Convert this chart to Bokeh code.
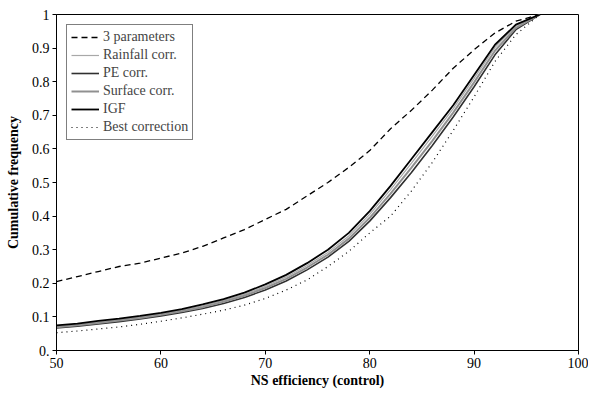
from bokeh.plotting import figure
from bokeh.models import FixedTicker, Legend, LegendItem
from bokeh.embed import file_html
from bokeh.resources import INLINE

# Data
ns = [50, 52, 54, 56, 58, 60, 62, 64, 66, 68, 70, 72, 74, 76, 78, 80, 82, 84, 86, 88, 90, 92, 94, 96.3]
three_params = [0.205, 0.22, 0.235, 0.25, 0.26, 0.275, 0.29, 0.31, 0.335, 0.36, 0.39, 0.42, 0.46, 0.50,
                0.545, 0.595, 0.66, 0.715, 0.775, 0.84, 0.895, 0.945, 0.98, 1.0]
rainfall = [0.072, 0.077, 0.085, 0.092, 0.1, 0.109, 0.12, 0.133, 0.149, 0.167, 0.191, 0.219, 0.253, 0.292,
            0.341, 0.405, 0.479, 0.558, 0.638, 0.72, 0.81, 0.902, 0.966, 1.0]
pe = [0.067, 0.072, 0.079, 0.086, 0.094, 0.103, 0.113, 0.125, 0.14, 0.158, 0.18, 0.207, 0.24, 0.278,
      0.325, 0.385, 0.455, 0.53, 0.61, 0.695, 0.785, 0.88, 0.955, 1.0]
surface = [0.069, 0.075, 0.082, 0.089, 0.097, 0.106, 0.117, 0.129, 0.145, 0.163, 0.186, 0.213, 0.247, 0.285,
           0.333, 0.395, 0.467, 0.544, 0.624, 0.708, 0.798, 0.892, 0.96, 1.0]
igf = [0.075, 0.08, 0.088, 0.095, 0.103, 0.112, 0.123, 0.137, 0.153, 0.172, 0.197, 0.225, 0.26, 0.30,
       0.35, 0.415, 0.49, 0.57, 0.65, 0.73, 0.82, 0.91, 0.97, 1.0]
best = [0.053, 0.058, 0.064, 0.07, 0.078, 0.087, 0.097, 0.108, 0.12, 0.135, 0.155, 0.18, 0.21, 0.25,
        0.295, 0.35, 0.40, 0.475, 0.56, 0.655, 0.755, 0.86, 0.94, 1.0]

x_ticks = [50, 60, 70, 80, 90, 100]
y_ticks = [0, 0.1, 0.2, 0.3, 0.4, 0.5, 0.6, 0.7, 0.8, 0.9, 1.0]
y_tick_labels = ["0.", "0.1", "0.2", "0.3", "0.4", "0.5", "0.6", "0.7", "0.8", "0.9", "1"]

FONT = "'Liberation Serif', 'Times New Roman', Times, serif"

p = figure(width=588, height=392, x_range=(50, 100), y_range=(0, 1),
           output_backend="svg", toolbar_location=None,
           min_border_left=56, min_border_right=10, min_border_top=14, min_border_bottom=42)
p.grid.visible = False
p.outline_line_color = "black"
p.outline_line_width = 1
p.background_fill_color = "white"
p.border_fill_color = "white"

r1 = p.line(ns, three_params, line_color="black", line_width=1.3, line_dash="6 4")
r2 = p.line(ns, rainfall, line_color="#a8a8a8", line_width=1.2)
r3 = p.line(ns, pe, line_color="#303030", line_width=1.6)
r4 = p.line(ns, surface, line_color="#909090", line_width=2.0)
r5 = p.line(ns, igf, line_color="black", line_width=1.8)
r6 = p.line(ns, best, line_color="black", line_width=1.2, line_dash="1 4")

for ax in (p.xaxis[0], p.yaxis[0]):
    ax.major_label_text_font = FONT
    ax.major_label_text_font_size = "14px"
    ax.major_label_text_color = "black"
    ax.axis_label_text_font = FONT
    ax.axis_label_text_font_size = "14px"
    ax.axis_label_text_font_style = "bold"
    ax.axis_label_text_color = "black"
    ax.minor_tick_line_color = None
    ax.major_tick_in = 0
    ax.major_tick_out = 4
    ax.axis_line_color = "black"
    ax.major_tick_line_color = "black"

p.xaxis.ticker = FixedTicker(ticks=x_ticks)
p.yaxis.ticker = FixedTicker(ticks=y_ticks)
p.yaxis.major_label_overrides = {t: l for t, l in zip(y_ticks, y_tick_labels)}
p.xaxis.axis_label = "NS efficiency (control)"
p.yaxis.axis_label = "Cumulative frequency"
p.xaxis.major_label_standoff = 3
p.yaxis.major_label_standoff = 3
p.xaxis.axis_label_standoff = 2
p.yaxis.axis_label_standoff = 8

legend = Legend(items=[
    LegendItem(label="3 parameters", renderers=[r1]),
    LegendItem(label="Rainfall corr.", renderers=[r2]),
    LegendItem(label="PE corr.", renderers=[r3]),
    LegendItem(label="Surface corr.", renderers=[r4]),
    LegendItem(label="IGF", renderers=[r5]),
    LegendItem(label="Best correction", renderers=[r6]),
], location="top_left")
legend.margin = 10
legend.padding = 4
legend.spacing = 2
legend.label_text_font = FONT
legend.label_text_font_size = "14px"
legend.label_height = 16
legend.glyph_height = 16
legend.glyph_width = 28
legend.label_standoff = 4
legend.border_line_color = "black"
legend.border_line_width = 1
legend.background_fill_alpha = 1
p.add_layout(legend)

open("out.html", "w").write(file_html(p, INLINE))
